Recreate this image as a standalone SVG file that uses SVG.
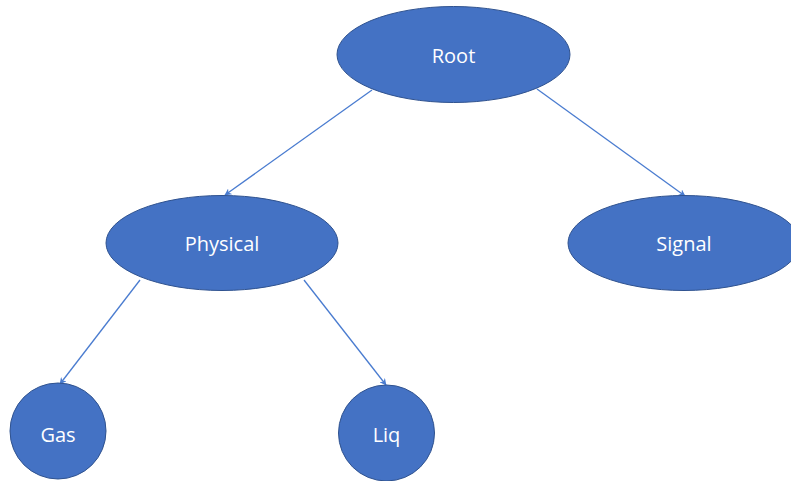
<svg xmlns="http://www.w3.org/2000/svg" width="791" height="481" viewBox="0 0 791 481">
<defs>
<marker id="arr" viewBox="0 0 10 10" refX="9" refY="5" markerWidth="7" markerHeight="7" orient="auto" markerUnits="userSpaceOnUse">
<path d="M0,0 L10,5 L0,10 L3,5 Z" fill="#4A7CD0"/>
</marker>
<style>
.node{fill:#4472C4;stroke:#2F528F;stroke-width:1}
.lbl{fill:#FFFFFF;font-family:"Open Sans","Noto Sans","Liberation Sans",sans-serif;font-size:20px;text-anchor:middle;dominant-baseline:central}
.edge{stroke:#4A7CD0;stroke-width:1.3;fill:none;marker-end:url(#arr)}
</style>
</defs>
<rect width="791" height="481" fill="#FFFFFF"/>
<g id="connectors">
<line class="edge" x1="372" y1="90" x2="225" y2="195"/>
<line class="edge" x1="537" y1="89" x2="685" y2="196"/>
<line class="edge" x1="140" y1="280" x2="60" y2="384"/>
<line class="edge" x1="304" y1="280" x2="386" y2="385"/>
</g>
<g id="root">
<ellipse class="node" cx="453.5" cy="54.5" rx="116.5" ry="48"/>
<text class="lbl" x="453.5" y="55">Root</text>
</g>
<g id="physical">
<ellipse class="node" cx="222" cy="243" rx="116" ry="47.5"/>
<text class="lbl" x="222" y="243">Physical</text>
</g>
<g id="signal">
<ellipse class="node" cx="684" cy="243" rx="116" ry="47.5"/>
<text class="lbl" x="684" y="243">Signal</text>
</g>
<g id="gas">
<circle class="node" cx="58" cy="431" r="48"/>
<text class="lbl" x="58" y="434">Gas</text>
</g>
<g id="liq">
<circle class="node" cx="386.5" cy="433" r="48"/>
<text class="lbl" x="386.5" y="434">Liq</text>
</g>
</svg>
